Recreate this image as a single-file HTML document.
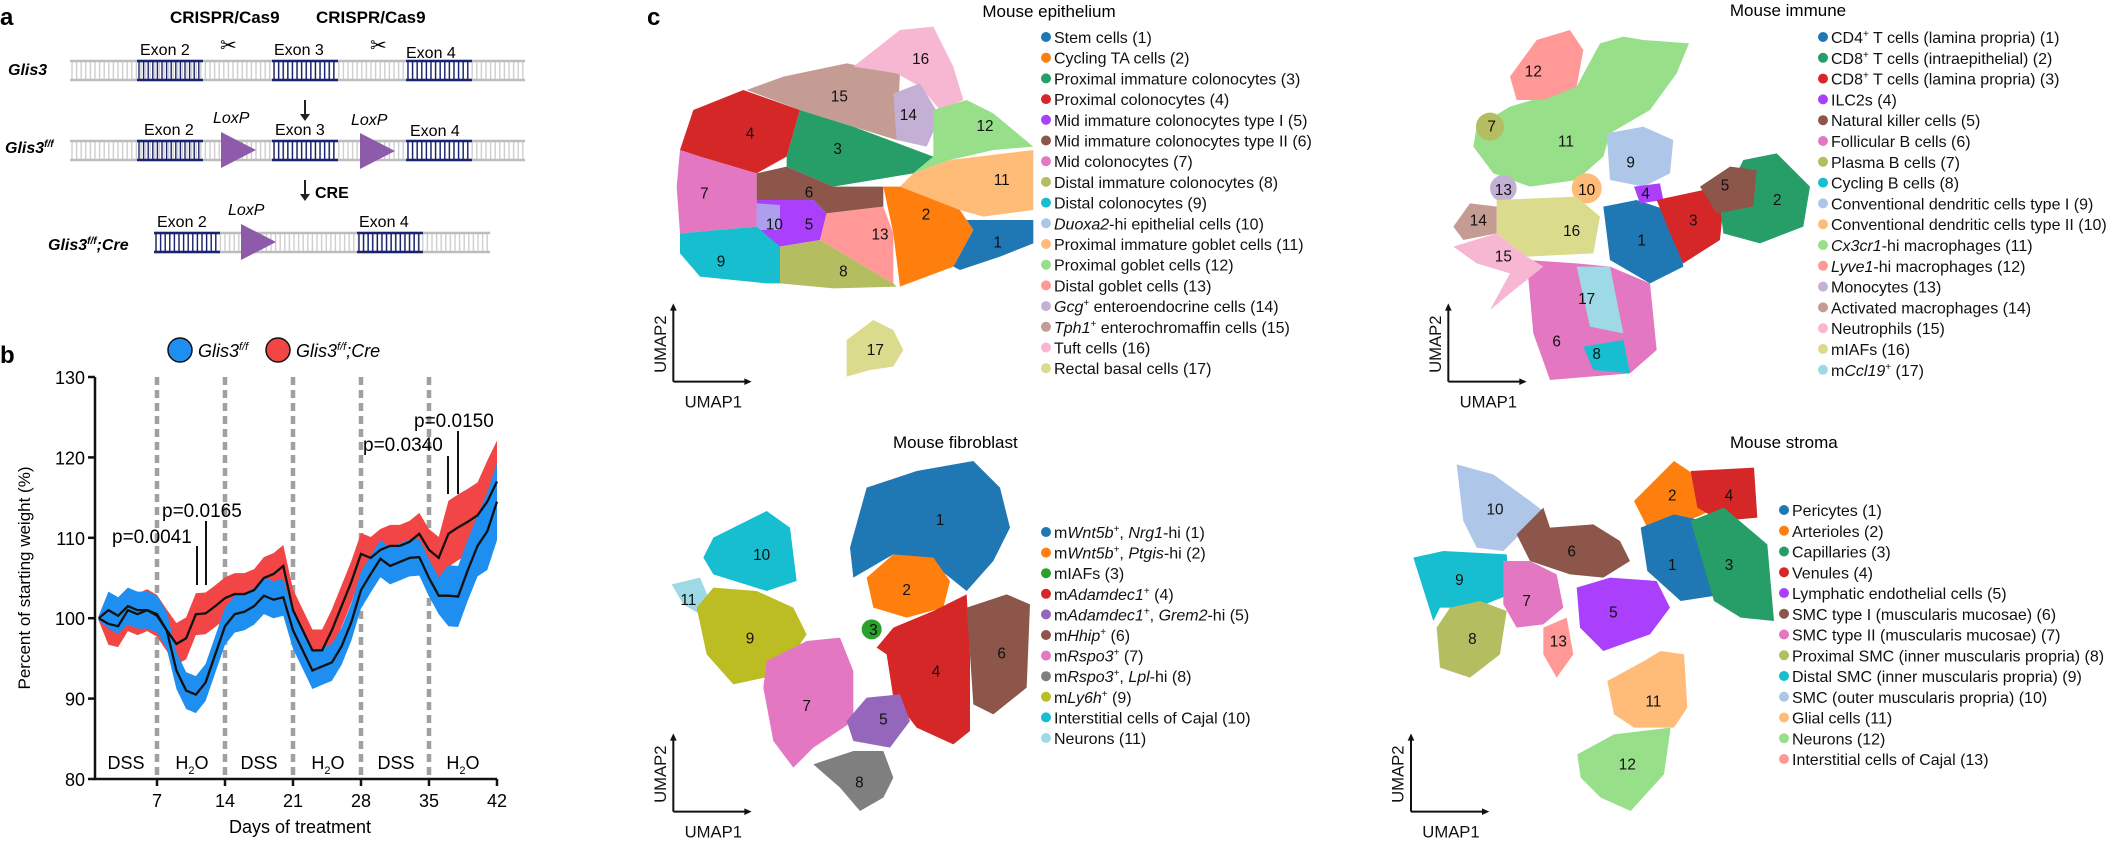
<!DOCTYPE html>
<html><head><meta charset="utf-8"><style>
html,body{margin:0;padding:0;background:#fff;}
svg{display:block;font-family:"Liberation Sans",Arial,sans-serif;}
.lg{font-size:16px;fill:#111;}
.num{font-size:46px;fill:#111;}
.ax{font-size:50px;fill:#111;}
</style></head><body>
<svg id="s" width="2124" height="842" viewBox="0 0 2124 842" xmlns="http://www.w3.org/2000/svg">
<!-- Panel a -->
<text x="0" y="25" font-size="24" font-weight="bold">a</text>
<text x="170" y="23" font-size="17" font-weight="bold">CRISPR/Cas9</text>
<text x="316" y="23" font-size="17" font-weight="bold">CRISPR/Cas9</text>
<text x="220" y="52" font-size="20">✂</text>
<text x="370" y="52" font-size="20">✂</text>
<g id="dna"></g>
<g font-size="16">
<text x="140" y="55">Exon 2</text><text x="274" y="55">Exon 3</text><text x="406" y="58">Exon 4</text>
<text x="144" y="135">Exon 2</text><text x="275" y="135">Exon 3</text><text x="410" y="136">Exon 4</text>
<text x="157" y="227">Exon 2</text><text x="359" y="227">Exon 4</text>
<text x="213" y="123" font-style="italic">LoxP</text><text x="351" y="125" font-style="italic">LoxP</text>
<text x="228" y="215" font-style="italic">LoxP</text>
<text x="8" y="75" font-weight="bold" font-style="italic">Glis3</text>
<text x="5" y="153" font-weight="bold" font-style="italic">Glis3<tspan font-size="10" dy="-6">f/f</tspan></text>
<text x="48" y="250" font-weight="bold" font-style="italic">Glis3<tspan font-size="10" dy="-6">f/f</tspan><tspan dy="6">;Cre</tspan></text>
<text x="315" y="198" font-weight="bold">CRE</text>
</g>
<g fill="#222" stroke="#222" stroke-width="2">
<line x1="305" y1="100" x2="305" y2="116"/><polygon points="300,114 310,114 305,121" stroke="none"/>
<line x1="305" y1="180" x2="305" y2="196"/><polygon points="300,194 310,194 305,201" stroke="none"/>
</g>
<g fill="#8e5aaa">
<polygon points="221,132 256,150 221,168"/><polygon points="360,133 395,151 360,169"/><polygon points="241,224 276,242 241,260"/>
</g>
<!-- Panel b -->
<text x="0" y="363" font-size="24" font-weight="bold">b</text>
<circle cx="180" cy="350" r="12" fill="#1e8ff0" stroke="#111" stroke-width="1.5"/>
<text x="198" y="357" font-size="18" font-style="italic">Glis3<tspan font-size="11" dy="-7">f/f</tspan></text>
<circle cx="278" cy="350" r="12" fill="#f24646" stroke="#111" stroke-width="1.5"/>
<text x="296" y="357" font-size="18" font-style="italic">Glis3<tspan font-size="11" dy="-7">f/f</tspan><tspan dy="7">;Cre</tspan></text>
<g id="plot"></g>
<text transform="translate(30,578) rotate(-90)" text-anchor="middle" font-size="17">Percent of starting weight (%)</text>
<text x="300" y="833" text-anchor="middle" font-size="18">Days of treatment</text>
<g font-size="18" text-anchor="middle">
<text x="126" y="769">DSS</text><text x="192" y="769">H<tspan font-size="11" dy="5">2</tspan><tspan dy="-5">O</tspan></text>
<text x="259" y="769">DSS</text><text x="328" y="769">H<tspan font-size="11" dy="5">2</tspan><tspan dy="-5">O</tspan></text>
<text x="396" y="769">DSS</text><text x="463" y="769">H<tspan font-size="11" dy="5">2</tspan><tspan dy="-5">O</tspan></text>
</g>
<g font-size="19">
<text x="112" y="543">p=0.0041</text><text x="162" y="517">p=0.0165</text>
<text x="363" y="451">p=0.0340</text><text x="414" y="427">p=0.0150</text>
</g>
<g stroke="#111" stroke-width="2">
<line x1="197" y1="546" x2="197" y2="585"/><line x1="206" y1="521" x2="206" y2="585"/>
<line x1="448" y1="456" x2="448" y2="494"/><line x1="458" y1="431" x2="458" y2="494"/>
</g>

<text x="647" y="25" font-size="24" font-weight="bold">c</text>

<!-- Epithelium -->
<text x="1049" y="17" font-size="17" text-anchor="middle">Mouse epithelium</text>
<g transform="translate(600,0) scale(0.33333)">
<polygon fill="#d62728" points="280,330 430,270 600,330 560,470 470,520 300,470 240,450"/>
<polygon fill="#279e68" points="600,330 760,380 1000,470 940,520 820,540 700,560 560,500 560,470"/>
<polygon fill="#c49c94" points="440,270 550,230 740,190 900,220 890,420 760,380 600,330"/>
<polygon fill="#f7b6d2" points="760,200 900,90 1000,80 1060,200 1090,300 1020,330 960,260 890,220"/>
<polygon fill="#c5b0d5" points="880,280 960,250 1020,350 980,440 890,420"/>
<polygon fill="#98df8a" points="1000,330 1100,300 1180,340 1300,440 1180,450 1050,480 940,520 1000,470"/>
<polygon fill="#ffbb78" points="1050,480 1300,450 1300,630 1150,650 1080,630 900,560 940,520"/>
<polygon fill="#e377c2" points="240,450 300,470 470,520 470,680 240,700 230,560"/>
<polygon fill="#8c564b" points="470,520 560,500 700,560 850,560 850,620 680,640 640,600 470,600"/>
<polygon fill="#aa40fc" points="470,600 640,600 680,640 660,720 540,740 470,690"/>
<polygon fill="#aec7e8" opacity="0.7" points="470,610 540,615 540,690 470,690"/>
<polygon fill="#ff9896" points="680,640 850,620 880,700 880,850 660,720"/>
<polygon fill="#ff7f0e" points="850,560 900,560 1080,630 1120,690 1060,800 900,860 880,700"/>
<polygon fill="#1f77b4" points="1100,660 1300,660 1300,730 1200,770 1080,810 1060,800 1120,690"/>
<polygon fill="#17becf" points="240,700 470,680 540,740 560,850 500,850 300,830 240,760"/>
<polygon fill="#b5bd61" points="540,740 660,720 880,850 890,860 700,865 540,850"/>
<polygon fill="#dbdb8d" points="740,1130 740,1020 820,960 880,990 910,1050 880,1100 810,1110"/>
<g class="num" text-anchor="middle">
<text x="962" y="192">16</text><text x="718" y="305">15</text><text x="925" y="360">14</text><text x="450" y="415">4</text>
<text x="713" y="462">3</text><text x="1155" y="393">12</text><text x="1205" y="555">11</text><text x="313" y="595">7</text>
<text x="627" y="592">6</text><text x="978" y="658">2</text><text x="523" y="688">10</text><text x="627" y="688">5</text>
<text x="840" y="718">13</text><text x="1193" y="743">1</text><text x="363" y="800">9</text><text x="730" y="830">8</text><text x="826" y="1065">17</text>
</g>
<g class="umap" data-x="220" data-y="1145" data-len="235"></g>
</g>
<g class="lg" id="leg1"></g>

<!-- Immune -->
<text x="1788" y="16" font-size="17" text-anchor="middle">Mouse immune</text>
<g transform="translate(1110,0) scale(0.33333)">
<polygon fill="#98df8a" points="1090,440 1100,380 1200,320 1400,260 1470,130 1540,110 1600,120 1737,130 1700,220 1620,330 1500,400 1480,470 1400,540 1260,560 1150,520"/>
<polygon fill="#ff9896" points="1200,230 1280,120 1380,90 1420,150 1400,260 1300,300 1220,300"/>
<circle fill="#b5bd61" cx="1140" cy="380" r="42"/>
<polygon fill="#aec7e8" points="1490,400 1600,380 1690,420 1680,520 1600,560 1500,540"/>
<circle fill="#ffbb78" cx="1430" cy="565" r="45"/>
<circle fill="#c5b0d5" cx="1180" cy="565" r="40"/>
<polygon fill="#e377c2" points="1250,780 1400,790 1500,800 1620,850 1640,1050 1560,1120 1320,1140 1270,1000"/>
<polygon fill="#9edae5" points="1400,800 1500,800 1540,1000 1440,980"/>
<polygon fill="#17becf" points="1420,1040 1540,1020 1560,1120 1450,1110"/>
<polygon fill="#f7b6d2" points="1030,740 1160,700 1250,770 1300,800 1200,880 1140,930 1200,820 1100,790"/>
<polygon fill="#dbdb8d" points="1160,600 1400,590 1470,650 1450,760 1250,770 1160,700"/>
<polygon fill="#c49c94" points="1030,680 1080,610 1160,620 1160,700 1060,720"/>
<polygon fill="#1f77b4" points="1480,620 1580,600 1700,640 1720,800 1620,850 1500,780"/>
<polygon fill="#aa40fc" points="1572,560 1650,550 1660,600 1590,610"/>
<polygon fill="#d62728" points="1640,600 1780,570 1840,620 1830,720 1720,790 1680,700"/>
<polygon fill="#279e68" points="1830,620 1900,480 2000,460 2100,560 2080,680 1950,730 1840,700"/>
<polygon fill="#8c564b" points="1770,560 1860,500 1940,510 1930,620 1820,640"/>
<g class="num" text-anchor="middle">
<text x="1270" y="230">12</text><text x="1145" y="395">7</text><text x="1368" y="440">11</text><text x="1180" y="585">13</text>
<text x="1430" y="585">10</text><text x="1105" y="677">14</text><text x="1385" y="708">16</text><text x="1180" y="785">15</text>
<text x="1430" y="912">17</text><text x="1340" y="1040">6</text><text x="1460" y="1077">8</text><text x="1562" y="503">9</text>
<text x="1607" y="595">4</text><text x="1845" y="572">5</text><text x="1750" y="677">3</text><text x="2002" y="615">2</text><text x="1595" y="737">1</text>
</g>
<g class="umap" data-x="1015" data-y="1145" data-len="235"></g>
</g>
<g class="lg" id="leg2"></g>

<!-- Fibroblast -->
<text x="893" y="448" font-size="17">Mouse fibroblast</text>
<g transform="translate(600,421) scale(0.33333)">
<polygon fill="#1f77b4" points="750,380 800,200 950,150 1120,120 1200,200 1230,320 1180,420 1100,510 1000,430 880,400 760,470"/>
<polygon fill="#ff7f0e" points="800,470 880,400 1000,410 1050,480 1030,560 920,590 820,560"/>
<circle fill="#2ca02c" cx="815" cy="625" r="30"/>
<polygon fill="#d62728" points="830,680 880,620 1000,570 1100,520 1110,700 1110,930 1060,970 950,920 880,830 860,700"/>
<polygon fill="#8c564b" points="1100,560 1220,520 1290,550 1280,800 1180,880 1120,850 1110,700"/>
<polygon fill="#17becf" points="340,350 500,270 570,320 590,480 500,510 340,460 310,410"/>
<polygon fill="#9edae5" points="215,490 300,470 330,540 300,580 250,550"/>
<polygon fill="#bcbd22" points="290,560 340,500 470,510 580,560 620,640 540,760 400,790 320,700"/>
<polygon fill="#e377c2" points="500,720 620,660 720,650 760,750 760,900 640,980 580,1040 520,960 490,800"/>
<polygon fill="#9467bd" points="740,900 800,830 900,820 930,900 870,980 760,960"/>
<polygon fill="#7f7f7f" points="640,1030 760,990 850,990 880,1070 850,1130 780,1170 720,1100"/>
<g class="num" text-anchor="middle">
<text x="1020" y="312">1</text><text x="485" y="417">10</text><text x="920" y="522">2</text><text x="265" y="552">11</text>
<text x="820" y="642">3</text><text x="450" y="667">9</text><text x="1205" y="712">6</text><text x="1008" y="767">4</text>
<text x="620" y="870">7</text><text x="850" y="910">5</text><text x="778" y="1100">8</text>
</g>
<g class="umap" data-x="220" data-y="1172" data-len="235"></g>
</g>
<g class="lg" id="leg3"></g>

<!-- Stroma -->
<text x="1730" y="448" font-size="17">Mouse stroma</text>
<g transform="translate(1110,421) scale(0.33333)">
<polygon fill="#aec7e8" points="1040,130 1150,160 1260,240 1300,270 1230,340 1180,390 1100,380 1060,300"/>
<polygon fill="#8c564b" points="1220,340 1300,260 1320,320 1450,310 1530,360 1560,420 1480,470 1380,460 1260,420"/>
<polygon fill="#17becf" points="910,410 1000,390 1190,400 1200,520 1100,560 990,560 970,600"/>
<polygon fill="#b5bd61" points="980,620 1020,560 1110,540 1190,570 1170,700 1080,770 990,740"/>
<polygon fill="#e377c2" points="1180,420 1260,420 1340,460 1360,560 1300,610 1220,620 1180,550"/>
<polygon fill="#ff9896" points="1300,620 1370,590 1390,700 1340,770 1300,700"/>
<polygon fill="#aa40fc" points="1400,500 1500,470 1640,480 1680,560 1620,640 1480,690 1410,620"/>
<g transform="translate(1512,0)">
<polygon fill="#ff7f0e" points="60,240 180,120 240,160 290,270 220,300 100,320"/>
<polygon fill="#d62728" points="230,150 420,140 430,290 320,300 250,260"/>
<polygon fill="#1f77b4" points="80,320 180,280 270,300 330,520 200,540 100,450"/>
<polygon fill="#279e68" points="230,300 330,260 460,370 480,600 380,590 300,540"/>
<polygon fill="#ffbb78" points="-20,780 90,720 140,690 210,700 220,860 180,920 60,920 0,880"/>
<polygon fill="#98df8a" points="-110,1000 0,940 170,920 150,1060 50,1170 -40,1130 -100,1070"/>
<g class="num" text-anchor="middle">
<text x="175" y="239">2</text><text x="345" y="239">4</text><text x="175" y="447">1</text><text x="345" y="447">3</text>
<text x="118" y="857">11</text><text x="40" y="1045">12</text>
</g>
</g>
<g class="num" text-anchor="middle">
<text x="1155" y="280">10</text><text x="1385" y="407">6</text><text x="1048" y="492">9</text><text x="1250" y="555">7</text>
<text x="1087" y="669">8</text><text x="1345" y="677">13</text><text x="1510" y="590">5</text>
</g>
<g class="umap" data-x="903" data-y="1172" data-len="235"></g>
</g>
<g class="lg" id="leg4"></g>
</svg>
<script>
var NS="http://www.w3.org/2000/svg";
function add(p,tag,attrs,txt){var e=document.createElementNS(NS,tag);for(var k in attrs)e.setAttribute(k,attrs[k]);if(txt!=null)e.textContent=txt;p.appendChild(e);return e;}
var dna=document.getElementById('dna');
function band(x1,x2,y1,y2,col,tc){
 for(var x=x1+2;x<x2;x+=4.6)add(dna,'line',{x1:x,x2:x,y1:y1,y2:y2,stroke:tc,'stroke-width':1.4});
 add(dna,'line',{x1:x1,x2:x2,y1:y1,y2:y1,stroke:col,'stroke-width':2.5});
 add(dna,'line',{x1:x1,x2:x2,y1:y2,y2:y2,stroke:col,'stroke-width':2.5});
}
[[61,80],[141,160]].forEach(function(r){band(70,525,r[0],r[1],'#bdbdbd','#cfcfcf');[137,272,406].forEach(function(x){band(x,x+66,r[0],r[1],'#1a2370','#1a2370');});});
band(154,490,233,252,'#bdbdbd','#cfcfcf');band(154,220,233,252,'#1a2370','#1a2370');band(357,423,233,252,'#1a2370','#1a2370');
var pl=document.getElementById('plot');
function X(d){return 157+(d-7)*9.714;}function Y(v){return 779-(v-80)*8.04;}
for(var d=7;d<=35;d+=7)add(pl,'line',{x1:X(d),x2:X(d),y1:377,y2:779,stroke:'#a0a0a0','stroke-width':4.5,'stroke-dasharray':'8,5'});
var blue=[100,101,100.3,101.5,101,101,100.5,98.5,93.5,91,90.5,92,95.5,99,100.5,100.8,101.5,102.8,102.3,102.6,98.5,96,93.5,94,94.5,96.5,99.5,103.5,105.5,107.4,106.5,107,107.5,107.6,105,102.8,102.8,102.7,106,109,110.8,114.5];
var red=[100,99.3,99,101,100.5,101,100.3,98.5,96.8,97.5,100.5,100.6,101.5,102.5,103,103,103.5,105,105.5,106.5,101,98.5,96,96,98.5,101.5,104.5,108,107.5,108.5,109,109,109.5,110.5,108.5,107.5,110.5,111.3,112,112.8,114.5,117];
function bandPath(a,col,base){var up=[],dn=[];for(var i=0;i<a.length;i++){var d=i+1;var w=i==0?0.3:(base+(d>36?1.5:0)+(d>40?1:0));up.push(X(d)+','+Y(a[i]+w));dn.unshift(X(d)+','+Y(a[i]-w));}
 add(pl,'polygon',{points:up.concat(dn).join(' '),fill:col});}
bandPath(red,'#f24646',2.6);bandPath(blue,'#1e8ff0',2.3);
function line(a){var p=[];for(var i=0;i<a.length;i++)p.push(X(i+1)+','+Y(a[i]));add(pl,'polyline',{points:p.join(' '),fill:'none',stroke:'#111','stroke-width':2.3});}
line(red);line(blue);
add(pl,'polyline',{points:'95,377 95,779 497,779',fill:'none',stroke:'#111','stroke-width':2.5});
for(var v=80;v<=130;v+=10){add(pl,'line',{x1:88,x2:95,y1:Y(v),y2:Y(v),stroke:'#111','stroke-width':2.5});add(pl,'text',{x:85,y:Y(v)+7,'text-anchor':'end','font-size':18},String(v));}
for(var d=7;d<=42;d+=7){add(pl,'line',{x1:X(d),x2:X(d),y1:779,y2:786,stroke:'#111','stroke-width':2.5});add(pl,'text',{x:X(d),y:807,'text-anchor':'middle','font-size':18},String(d));}
document.querySelectorAll('.umap').forEach(function(g){var x=+g.dataset.x,y=+g.dataset.y,L=+g.dataset.len;
 add(g,'line',{x1:x,y1:y,x2:x,y2:y-L+20,stroke:'#111','stroke-width':6});add(g,'polygon',{points:(x-10)+','+(y-L+22)+' '+(x+10)+','+(y-L+22)+' '+x+','+(y-L),fill:'#111'});
 add(g,'line',{x1:x,y1:y,x2:x+L-20,y2:y,stroke:'#111','stroke-width':6});add(g,'polygon',{points:(x+L-22)+','+(y-10)+' '+(x+L-22)+','+(y+10)+' '+(x+L)+','+y,fill:'#111'});
 add(g,'text',{transform:'translate('+(x-22)+','+(y-L/2+5)+') rotate(-90)','text-anchor':'middle','class':'ax'},'UMAP2');
 add(g,'text',{x:x+120,y:y+77,'text-anchor':'middle','class':'ax'},'UMAP1');});
function legend(id,x,y0,step,items){var g=document.getElementById(id);items.forEach(function(it,i){var y=y0+i*step;
 add(g,'circle',{cx:x,cy:y,r:5,fill:it[0]});var t=add(g,'text',{x:x+8,y:y+6});
 var segs=typeof it[1]=='string'?[[it[1]]]:it[1];var sup=false;
 segs.forEach(function(s){var ts=add(t,'tspan',{},s[0]);if(s[1]=='i')ts.setAttribute('font-style','italic');
  if(s[1]=='s'){ts.setAttribute('font-size','10');ts.setAttribute('dy','-6');sup=true;}else if(sup){ts.setAttribute('dy','6');sup=false;}});});}
legend('leg1',1046,37,20.7,[
['#1f77b4','Stem cells (1)'],['#ff7f0e','Cycling TA cells (2)'],['#279e68','Proximal immature colonocytes (3)'],['#d62728','Proximal colonocytes (4)'],
['#aa40fc','Mid immature colonocytes type I (5)'],['#8c564b','Mid immature colonocytes type II (6)'],['#e377c2','Mid colonocytes (7)'],['#b5bd61','Distal immature colonocytes (8)'],
['#17becf','Distal colonocytes (9)'],['#aec7e8',[['Duoxa2','i'],['-hi epithelial cells (10)']]],['#ffbb78','Proximal immature goblet cells (11)'],['#98df8a','Proximal goblet cells (12)'],
['#ff9896','Distal goblet cells (13)'],['#c5b0d5',[['Gcg','i'],['+','s'],[' enteroendocrine cells (14)']]],['#c49c94',[['Tph1','i'],['+','s'],[' enterochromaffin cells (15)']]],
['#f7b6d2','Tuft cells (16)'],['#dbdb8d','Rectal basal cells (17)']]);
legend('leg2',1823,37,20.8,[
['#1f77b4',[['CD4'],['+','s'],[' T cells (lamina propria) (1)']]],['#279e68',[['CD8'],['+','s'],[' T cells (intraepithelial) (2)']]],['#d62728',[['CD8'],['+','s'],[' T cells (lamina propria) (3)']]],
['#aa40fc','ILC2s (4)'],['#8c564b','Natural killer cells (5)'],['#e377c2','Follicular B cells (6)'],['#b5bd61','Plasma B cells (7)'],['#17becf','Cycling B cells (8)'],
['#aec7e8','Conventional dendritic cells type I (9)'],['#ffbb78','Conventional dendritic cells type II (10)'],['#98df8a',[['Cx3cr1','i'],['-hi macrophages (11)']]],
['#ff9896',[['Lyve1','i'],['-hi macrophages (12)']]],['#c5b0d5','Monocytes (13)'],['#c49c94','Activated macrophages (14)'],['#f7b6d2','Neutrophils (15)'],['#dbdb8d','mIAFs (16)'],
['#9edae5',[['m'],['Ccl19','i'],['+','s'],[' (17)']]]]);
legend('leg3',1046,532,20.6,[
['#1f77b4',[['m'],['Wnt5b','i'],['+','s'],[', '],['Nrg1','i'],['-hi (1)']]],['#ff7f0e',[['m'],['Wnt5b','i'],['+','s'],[', '],['Ptgis','i'],['-hi (2)']]],['#2ca02c','mIAFs (3)'],
['#d62728',[['m'],['Adamdec1','i'],['+','s'],[' (4)']]],['#9467bd',[['m'],['Adamdec1','i'],['+','s'],[', '],['Grem2','i'],['-hi (5)']]],['#8c564b',[['m'],['Hhip','i'],['+','s'],[' (6)']]],
['#e377c2',[['m'],['Rspo3','i'],['+','s'],[' (7)']]],['#7f7f7f',[['m'],['Rspo3','i'],['+','s'],[', '],['Lpl','i'],['-hi (8)']]],['#bcbd22',[['m'],['Ly6h','i'],['+','s'],[' (9)']]],
['#17becf','Interstitial cells of Cajal (10)'],['#9edae5','Neurons (11)']]);
legend('leg4',1784,510,20.75,[
['#1f77b4','Pericytes (1)'],['#ff7f0e','Arterioles (2)'],['#279e68','Capillaries (3)'],['#d62728','Venules (4)'],['#aa40fc','Lymphatic endothelial cells (5)'],
['#8c564b','SMC type I (muscularis mucosae) (6)'],['#e377c2','SMC type II (muscularis mucosae) (7)'],['#b5bd61','Proximal SMC (inner muscularis propria) (8)'],
['#17becf','Distal SMC (inner muscularis propria) (9)'],['#aec7e8','SMC (outer muscularis propria) (10)'],['#ffbb78','Glial cells (11)'],['#98df8a','Neurons (12)'],['#ff9896','Interstitial cells of Cajal (13)']]);
</script>
</body></html>
